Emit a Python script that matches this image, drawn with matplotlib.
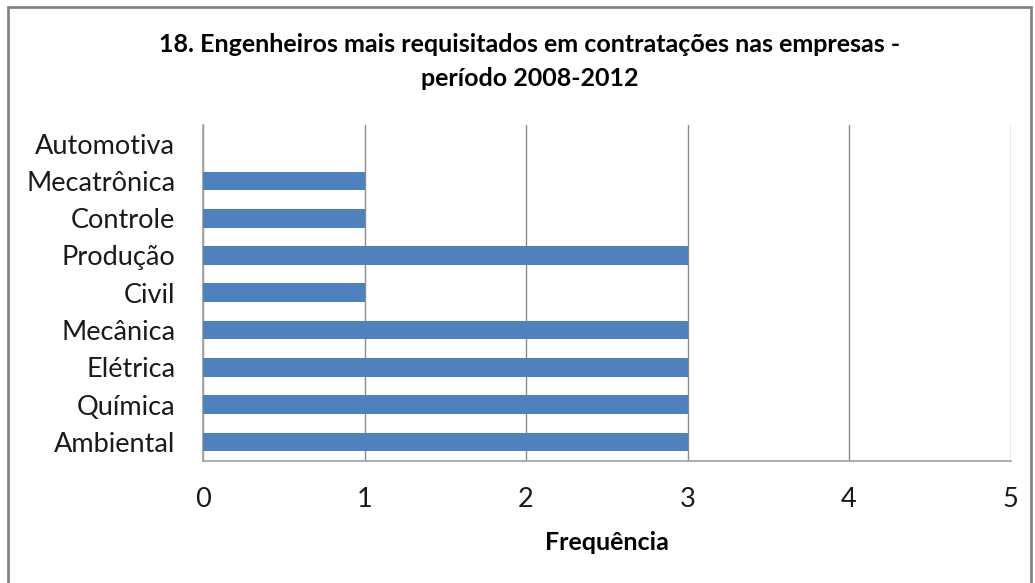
import matplotlib.pyplot as plt
from matplotlib.patches import Rectangle

plt.rcParams['font.family'] = ['Lato', 'DejaVu Sans']

# áreas de engenharia, de baixo para cima
categorias = ['Ambiental', 'Química', 'Elétrica', 'Mecânica', 'Civil',
              'Produção', 'Controle', 'Mecatrônica', 'Automotiva']
frequencia = [3, 3, 3, 3, 1, 3, 1, 1, 0]
xticks = [0, 1, 2, 3, 4, 5]

W, H = 1035, 583
fig = plt.figure(figsize=(W / 100, H / 100), dpi=100)
ax = fig.add_axes([203 / W, 1 - 460.5 / H, (1010.5 - 203) / W, (460.5 - 125) / H])

ax.barh(range(len(categorias)), frequencia, height=0.5, color='#4f81bd', zorder=3)

ax.set_xlim(0, 5)
ax.set_ylim(-0.5, len(categorias) - 0.5)
ax.set_xticks(xticks)
ax.set_yticks(range(len(categorias)))
ax.set_yticklabels(categorias)
ax.tick_params(axis='both', length=0, labelsize=19.5, colors='#1a1a1a')
ax.tick_params(axis='x', pad=19)
ax.tick_params(axis='y', pad=20)
ax.grid(axis='x', color='#8c8c8c', linewidth=1, zorder=0)

for s in ['top', 'right']:
    ax.spines[s].set_visible(False)
for s in ['left', 'bottom']:
    ax.spines[s].set_color('#a0a0a0')
    ax.spines[s].set_linewidth(1.2)

ax.set_xlabel('Frequência', fontsize=18, fontweight='bold', labelpad=14)
fig.text(530 / W, 1 - 61.5 / H,
         '18. Engenheiros mais requisitados em contratações nas empresas -\nperíodo 2008-2012',
         ha='center', va='center', fontsize=18, fontweight='bold',
         linespacing=1.6)

# moldura do gráfico
fig.patches.append(Rectangle((8 / W, -0.05), (1031 - 8) / W, 1 - 7 / H + 0.05,
                             transform=fig.transFigure, fill=False,
                             edgecolor='#868686', linewidth=2))

fig.savefig('out.png', dpi=100)
